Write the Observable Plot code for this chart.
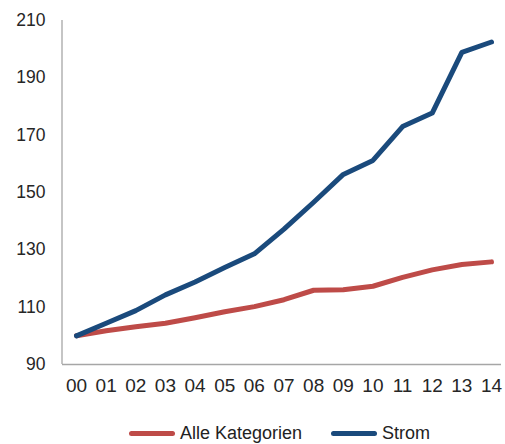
<!DOCTYPE html>
<html>
<head>
<meta charset="utf-8">
<script src="https://cdn.jsdelivr.net/npm/d3@7"></script>
<script src="https://cdn.jsdelivr.net/npm/@observablehq/plot@0.6"></script>
<style>
  html, body { margin: 0; padding: 0; background: #fff; }
  body { width: 505px; height: 444px; overflow: hidden; font-family: "Liberation Sans", Arial, sans-serif; }
  #chart svg { display: block; }
  #legend { position: relative; height: 22px; margin-top: 22px; display: flex; align-items: center; padding-left: 129px; font-size: 18px; color: #222; }
  .item { display: flex; align-items: center; }
  .sw { width: 46px; height: 5px; border-radius: 3px; margin-right: 5px; }
</style>
</head>
<body>
<div id="chart"></div>
<div id="legend"></div>
<script>
const years = ["00","01","02","03","04","05","06","07","08","09","10","11","12","13","14"];
const alleKategorien = [100, 101.8, 103.2, 104.4, 106.3, 108.4, 110.2, 112.6, 115.9, 116.1, 117.3, 120.4, 123.0, 124.9, 125.8];
const strom = [100, 104.4, 108.8, 114.3, 118.8, 123.8, 128.6, 137.2, 146.6, 156.3, 161.2, 173.0, 177.7, 198.9, 202.5];
const seriesNames = ["Alle Kategorien", "Strom"];
const seriesColors = ["#BE4B48", "#1A4A7C"];
const yTicks = [90, 110, 130, 150, 170, 190, 210];

const data = [];
years.forEach((y, i) => {
  data.push({year: y, value: alleKategorien[i], series: seriesNames[0]});
  data.push({year: y, value: strom[i], series: seriesNames[1]});
});

const plot = Plot.plot({
  width: 505,
  height: 400,
  marginTop: 20,
  marginLeft: 62,
  marginRight: 4,
  marginBottom: 36,
  style: {fontFamily: "'Liberation Sans', Arial, sans-serif", fontSize: "18px", color: "#262626", background: "#fff"},
  x: {type: "point", domain: years, range: [76, 491], padding: 0, round: false, label: null},
  y: {domain: [90, 210], ticks: yTicks, label: null},
  color: {domain: seriesNames, range: seriesColors},
  marks: [
    Plot.ruleY([90], {stroke: "#A6A6A6", strokeWidth: 1.3}),
    Plot.axisY({ticks: yTicks, tickSize: 0, tickPadding: 17, label: null, fontSize: 17.5}),
    Plot.axisX({tickSize: 0, tickPadding: 14, label: null, fontSize: 19}),
    Plot.lineY(data, {x: "year", y: "value", stroke: "series", strokeWidth: 5, strokeLinecap: "round", strokeLinejoin: "round"})
  ]
});

// vertical axis line along the left edge of the frame
const svg = d3.select(plot);
const ys = plot.scale("y");
svg.insert("line", ":first-child")
  .attr("x1", 62).attr("x2", 62)
  .attr("y1", ys.apply(210)).attr("y2", ys.apply(90))
  .attr("stroke", "#A6A6A6").attr("stroke-width", 1.3);

document.getElementById("chart").appendChild(plot);

const legend = d3.select("#legend");
seriesNames.forEach((name, i) => {
  const it = legend.append("div").attr("class", "item").style("margin-right", i === 0 ? "29px" : "0px");
  it.append("div").attr("class", "sw").style("background", seriesColors[i]);
  it.append("span").text(name);
});
</script>
</body>
</html>
